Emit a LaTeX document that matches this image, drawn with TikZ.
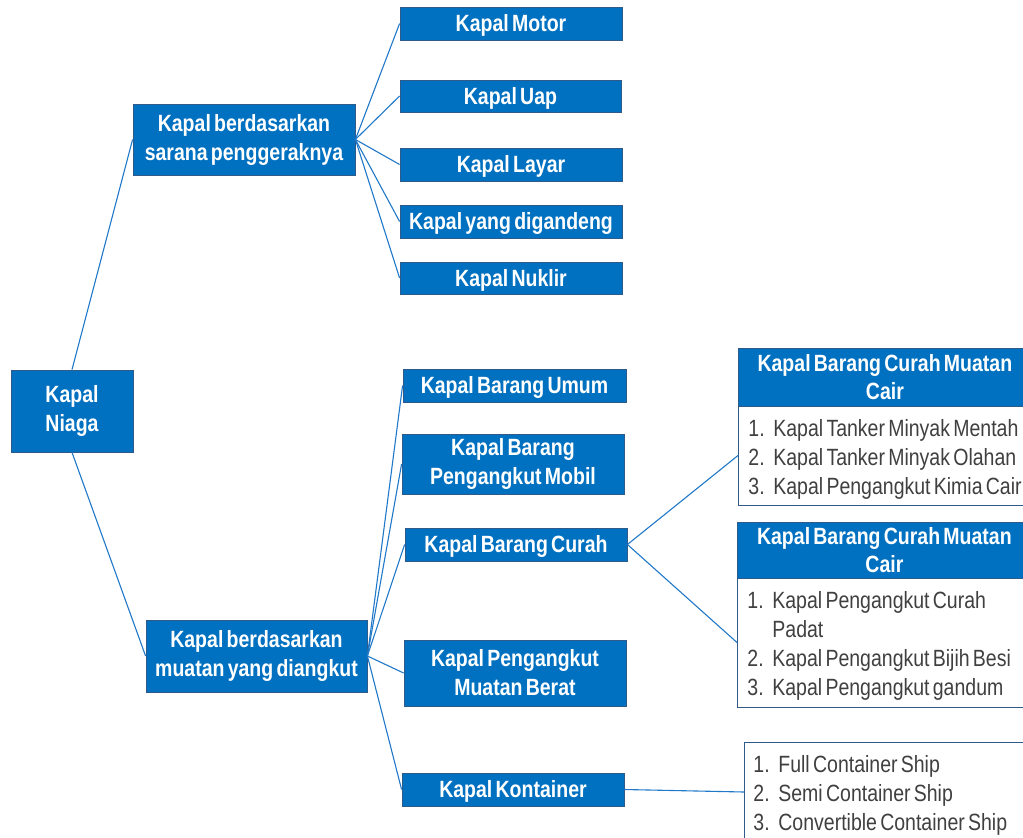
\documentclass[tikz,border=0pt]{standalone}
\usepackage{fontspec}
\setmainfont{Liberation Sans}[FakeStretch=0.83, WordSpace=0.6]
\definecolor{kblue}{HTML}{0070C0}
\definecolor{kborder}{HTML}{2F5A8A}
\definecolor{ktext}{HTML}{404040}
\definecolor{kline}{HTML}{1F78C8}
\newcommand{\itm}[1]{\makebox[25pt][l]{#1}}
\newcommand{\bodystart}{\spaceskip=0pt\relax\rule{0pt}{24.5pt}}
\begin{document}
\begin{tikzpicture}[x=1pt,y=-1pt,
  boxbase/.style={draw=kborder, line width=0.8pt, fill=kblue, text=white,
    font=\fontsize{23.5}{29}\selectfont\bfseries, align=center, inner sep=0pt,
    minimum width=222pt},
  box/.style={boxbase, execute at begin node={\rule{0pt}{21.5pt}}},
  hdr/.style={boxbase, anchor=west, minimum width=293pt,
    font=\fontsize{23.5}{28.5}\selectfont\bfseries},
  body/.style={draw=kborder, line width=0.8pt, fill=white, text=ktext, anchor=west,
    font=\fontsize{23.5}{29}\selectfont, align=left, inner xsep=10pt, inner ysep=0pt,
    text width=290pt},
  conn/.style={draw=kline, line width=1.1pt}]
\useasboundingbox (0,0) rectangle (1023,838);

% root
\node[box, minimum width=122pt, minimum height=82pt] (niaga) at (72,411) {Kapal\\Niaga};

% level 1
\node[box, minimum height=71pt] (sarana) at (244,139.5) {Kapal berdasarkan\\sarana penggeraknya};
\node[box, minimum width=221pt, minimum height=72pt] (muatan) at (256.5,656) {Kapal berdasarkan\\muatan yang diangkut};

% sarana children
\node[box, minimum height=33pt] (motor) at (511,23.5) {Kapal Motor};
\node[box, minimum width=221pt, minimum height=32pt] (uap) at (510.5,96) {Kapal Uap};
\node[box, minimum height=33pt] (layar) at (511,164.5) {Kapal Layar};
\node[box, minimum height=33pt] (gandeng) at (511,221.5) {Kapal yang digandeng};
\node[box, minimum height=32pt] (nuklir) at (511,278) {Kapal Nuklir};

% muatan children
\node[box, minimum width=223pt, minimum height=33pt] (umum) at (514.5,385.5) {Kapal Barang Umum};
\node[box, minimum height=60pt] (mobil) at (513,464) {Kapal Barang\\Pengangkut Mobil};
\node[box, minimum height=33pt] (curah) at (516,544.5) {Kapal Barang Curah};
\node[box, minimum height=66pt] (berat) at (515,673) {Kapal Pengangkut\\Muatan Berat};
\node[box, minimum height=33pt] (kontainer) at (513,789.5) {Kapal Kontainer};

% curah detail boxes
\node[hdr, minimum height=58pt] (h1) at (738,377) {Kapal Barang Curah Muatan\\Cair};
\node[body, minimum height=99pt] (b1) at (738,455.5) {\bodystart\itm{1.}Kapal Tanker Minyak Mentah\\\itm{2.}Kapal Tanker Minyak Olahan\\\itm{3.}Kapal Pengangkut Kimia Cair};

\node[hdr, minimum width=294pt, minimum height=56pt] (h2) at (737,550) {Kapal Barang Curah Muatan\\Cair};
\node[body, minimum height=129pt] (b2) at (737,642.5) {\bodystart\itm{1.}Kapal Pengangkut Curah\\\hspace*{25pt}Padat\\\itm{2.}Kapal Pengangkut Bijih Besi\\\itm{3.}Kapal Pengangkut gandum};

% kontainer detail box
\node[body, inner xsep=9pt, minimum height=100pt] (b3) at (744,792) {\bodystart\itm{1.}Full Container Ship\\\itm{2.}Semi Container Ship\\\itm{3.}Convertible Container Ship};

% connectors
\draw[conn] (niaga.north) -- (sarana.west);
\draw[conn] (niaga.south) -- (muatan.west);
\foreach \t in {motor,uap,layar,gandeng,nuklir}
  \draw[conn] (sarana.east) -- (\t.west);
\foreach \t in {umum,mobil,curah,berat,kontainer}
  \draw[conn] (muatan.east) -- (\t.west);
\draw[conn] (curah.east) -- (b1.west);
\draw[conn] (curah.east) -- (b2.west);
\draw[conn] (kontainer.east) -- (b3.west);
\end{tikzpicture}
\end{document}
